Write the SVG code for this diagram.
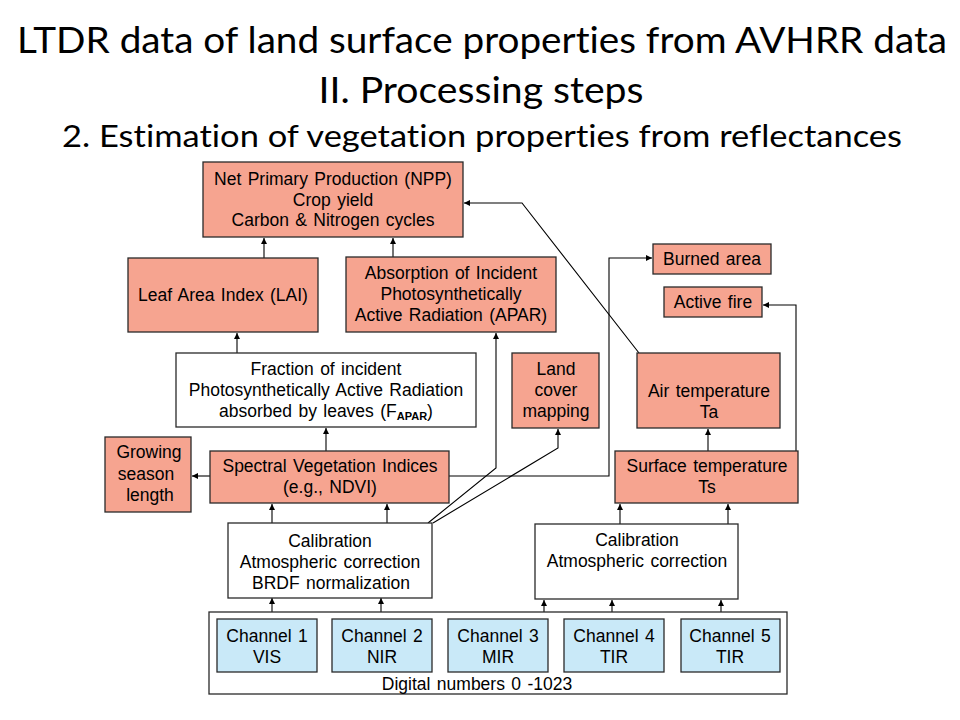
<svg xmlns="http://www.w3.org/2000/svg" width="960" height="720" viewBox="0 0 960 720">
<style>
.title{font-family:Lato,"Open Sans","Liberation Sans",sans-serif;fill:#000;text-anchor:middle;font-variant-ligatures:none;font-feature-settings:"liga" 0,"dlig" 0}
.box{stroke:#2a2a2a;stroke-width:1.3}
.sal{fill:#F6A490}
.wht{fill:#fff}
.blu{fill:#C9E9F8}
.t{font-family:"Liberation Sans",Arial,sans-serif;font-size:17.5px;fill:#000;text-anchor:middle;word-spacing:1.5px}
.ln{fill:none;stroke:#000;stroke-width:1.1}
</style>
<defs>
<marker id="ah" markerWidth="7" markerHeight="7" refX="6" refY="3" orient="auto" markerUnits="userSpaceOnUse">
<path d="M0,0 L6,3 L0,6 Z" fill="#000"/>
</marker>
</defs>
<rect width="960" height="720" fill="#fff"/>
<g id="title">
<text class="title" x="482" y="53" font-size="37" textLength="930" lengthAdjust="spacingAndGlyphs">LTDR data of land surface properties from AVHRR data</text>
<text class="title" x="481" y="103" font-size="37" textLength="325" lengthAdjust="spacingAndGlyphs">II. Processing steps</text>
<text class="title" x="482" y="147" font-size="31" textLength="840" lengthAdjust="spacingAndGlyphs">2. Estimation of vegetation properties from reflectances</text>
</g>
<g id="connectors">
<line class="ln" x1="264" y1="258" x2="264" y2="238" marker-end="url(#ah)"/>
<line class="ln" x1="393" y1="257" x2="393" y2="238" marker-end="url(#ah)"/>
<line class="ln" x1="237" y1="353" x2="237" y2="333" marker-end="url(#ah)"/>
<line class="ln" x1="326" y1="451" x2="326" y2="428" marker-end="url(#ah)"/>
<polyline class="ln" points="428,523 496,468 496,333" marker-end="url(#ah)"/>
<polyline class="ln" points="433,523 558,448 558,429" marker-end="url(#ah)"/>
<line class="ln" x1="210" y1="476" x2="192" y2="476" marker-end="url(#ah)"/>
<polyline class="ln" points="449,476 609,476 609,258 652,258" marker-end="url(#ah)"/>
<polyline class="ln" points="639,353 522,203 464,203" marker-end="url(#ah)"/>
<line class="ln" x1="708" y1="451" x2="708" y2="429" marker-end="url(#ah)"/>
<polyline class="ln" points="796,451 796,305 763,305" marker-end="url(#ah)"/>
<line class="ln" x1="272" y1="523" x2="272" y2="504" marker-end="url(#ah)"/>
<line class="ln" x1="387" y1="523" x2="387" y2="504" marker-end="url(#ah)"/>
<line class="ln" x1="620" y1="524" x2="620" y2="504" marker-end="url(#ah)"/>
<line class="ln" x1="728" y1="524" x2="728" y2="504" marker-end="url(#ah)"/>
<line class="ln" x1="272" y1="619" x2="272" y2="598" marker-end="url(#ah)"/>
<line class="ln" x1="381" y1="619" x2="381" y2="598" marker-end="url(#ah)"/>
<line class="ln" x1="544" y1="619" x2="544" y2="600" marker-end="url(#ah)"/>
<line class="ln" x1="612" y1="618" x2="612" y2="600" marker-end="url(#ah)"/>
<line class="ln" x1="721" y1="618" x2="721" y2="600" marker-end="url(#ah)"/>
</g>
<g id="npp">
<rect class="box sal" x="203" y="162" width="260" height="75"/>
<text class="t" x="333" y="185">Net Primary Production (NPP)</text>
<text class="t" x="333" y="206">Crop yield</text>
<text class="t" x="333" y="226">Carbon &amp; Nitrogen cycles</text>
</g>
<g id="lai">
<rect class="box sal" x="128" y="258" width="190" height="74"/>
<text class="t" x="223" y="301">Leaf Area Index (LAI)</text>
</g>
<g id="apar">
<rect class="box sal" x="346" y="257" width="210" height="75"/>
<text class="t" x="451" y="279">Absorption of Incident</text>
<text class="t" x="451" y="300">Photosynthetically</text>
<text class="t" x="451" y="321">Active Radiation (APAR)</text>
</g>
<g id="burned">
<rect class="box sal" x="653" y="244" width="118" height="30"/>
<text class="t" x="712" y="265">Burned area</text>
</g>
<g id="fire">
<rect class="box sal" x="664" y="287" width="98" height="30"/>
<text class="t" x="713" y="308">Active fire</text>
</g>
<g id="fapar">
<rect class="box wht" x="176" y="353" width="300" height="74"/>
<text class="t" x="326" y="375">Fraction of incident</text>
<text class="t" x="326" y="396">Photosynthetically Active Radiation</text>
<text class="t" x="326" y="417">absorbed by leaves (F<tspan font-size="11" font-weight="bold" dy="3">APAR</tspan><tspan dy="-3">)</tspan></text>
</g>
<g id="landcover">
<rect class="box sal" x="512" y="353" width="87" height="75"/>
<text class="t" x="556" y="375">Land</text>
<text class="t" x="556" y="396">cover</text>
<text class="t" x="556" y="417">mapping</text>
</g>
<g id="airtemp">
<rect class="box sal" x="637" y="353" width="143" height="75"/>
<text class="t" x="709" y="397">Air temperature</text>
<text class="t" x="709" y="418">Ta</text>
</g>
<g id="growing">
<rect class="box sal" x="105" y="437" width="86" height="75"/>
<text class="t" x="149" y="458">Growing</text>
<text class="t" x="146" y="480">season</text>
<text class="t" x="150" y="501">length</text>
</g>
<g id="svi">
<rect class="box sal" x="210" y="451" width="239" height="52"/>
<text class="t" x="330" y="472">Spectral Vegetation Indices</text>
<text class="t" x="330" y="493">(e.g., NDVI)</text>
</g>
<g id="surftemp">
<rect class="box sal" x="615" y="451" width="183" height="52"/>
<text class="t" x="707" y="472">Surface temperature</text>
<text class="t" x="707" y="493">Ts</text>
</g>
<g id="cal1">
<rect class="box wht" x="228" y="523" width="204" height="75"/>
<text class="t" x="330" y="547">Calibration</text>
<text class="t" x="330" y="568">Atmospheric correction</text>
<text class="t" x="331" y="589">BRDF normalization</text>
</g>
<g id="cal2">
<rect class="box wht" x="535" y="524" width="203" height="75"/>
<text class="t" x="637" y="546">Calibration</text>
<text class="t" x="637" y="567">Atmospheric correction</text>
</g>
<g id="digital">
<rect class="box wht" x="209" y="612" width="578" height="82"/>
<text class="t" x="477" y="690">Digital numbers 0 -1023</text>
</g>
<g id="ch1">
<rect class="box blu" x="217" y="619" width="100" height="53"/>
<text class="t" x="267" y="642">Channel 1</text>
<text class="t" x="267" y="663">VIS</text>
</g>
<g id="ch2">
<rect class="box blu" x="332" y="619" width="100" height="53"/>
<text class="t" x="382" y="642">Channel 2</text>
<text class="t" x="382" y="663">NIR</text>
</g>
<g id="ch3">
<rect class="box blu" x="448" y="619" width="100" height="53"/>
<text class="t" x="498" y="642">Channel 3</text>
<text class="t" x="498" y="663">MIR</text>
</g>
<g id="ch4">
<rect class="box blu" x="564" y="619" width="100" height="53"/>
<text class="t" x="614" y="642">Channel 4</text>
<text class="t" x="614" y="663">TIR</text>
</g>
<g id="ch5">
<rect class="box blu" x="681" y="619" width="99" height="53"/>
<text class="t" x="730" y="642">Channel 5</text>
<text class="t" x="730" y="663">TIR</text>
</g>
</svg>
